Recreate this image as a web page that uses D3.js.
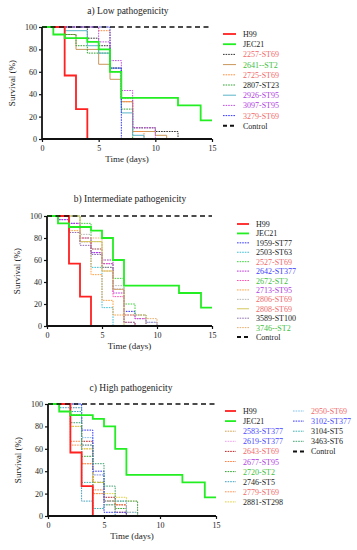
<!DOCTYPE html>
<html>
<head>
  <meta charset="utf-8">
  <script src="https://d3js.org/d3.v7.min.js"></script>
  <style>
    body { margin: 0; background: #fff; }
    svg text { font-family: 'Liberation Serif', 'DejaVu Serif', serif; }
  </style>
</head>
<body>
<script>
// ---- data: survival (%) steps, t = day of the step, s = survival from that day on
const xTicks = [0, 5, 10, 15];
const yTicks = [0, 20, 40, 60, 80, 100];
const controlLine = [[0, 100], [15, 100]];

const h99 = { name: "H99", t: [0, 2, 3, 4], s: [100, 56.7, 26.7, 0] };
const jec21 = { name: "JEC21", t: [0, 1, 2, 4, 5, 6, 7, 12, 14, 15], s: [100, 93.3, 90, 86.7, 80, 60, 36.7, 30, 16.7, 16.7] };

const lowSeries = [
  h99, jec21,
  { name: "2257-ST69", t: [0, 4, 5, 6, 7, 8, 10, 12], s: [100, 90, 83.3, 63.3, 36.7, 10, 6.7, 0] },
  { name: "2641--ST2", t: [0, 2, 3, 5, 6, 7, 8, 10, 11], s: [100, 93.3, 80, 66.7, 53.3, 33.3, 6.7, 3.3, 0] },
  { name: "2725-ST69", t: [0, 5, 6, 7, 8, 9], s: [100, 96.7, 63.3, 33.3, 6.7, 0] },
  { name: "2807-ST23", t: [0, 2, 3, 4, 6, 7, 8], s: [100, 93.3, 83.3, 76.7, 60, 26.7, 0] },
  { name: "2926-ST95", t: [0, 2, 4, 5, 6, 7, 8, 9], s: [100, 96.7, 83.3, 76.7, 63.3, 23.3, 3.3, 0] },
  { name: "3097-ST95", t: [0, 5, 6, 7, 8, 10], s: [100, 86.7, 70, 43.3, 10, 0] },
  { name: "3279-ST69", t: [0, 6, 7], s: [100, 63.3, 0] }
];
const lowColors = ["#ff2020", "#22ee22", "#333333", "#c8965a", "#ff8a3a", "#30a030", "#5ab4c8", "#c050e0", "#3535ff"];
const lowDash = [0, 0, 1, 0, 1, 1, 0, 1, 1];
const lowText = ["#222", "#222", "#f06a6a", "#40c040", "#f06a6a", "#222", "#b040e0", "#b040e0", "#f06a6a"];

const midSeries = [
  h99, jec21,
  { name: "1959-ST77", t: [0, 1, 2, 3, 4, 5, 6, 7, 8, 9, 10], s: [100, 96.7, 93.3, 80, 66.7, 56.7, 33.3, 13.3, 6.7, 3.3, 0] },
  { name: "2503-ST63", t: [0, 2, 3, 4, 5, 6], s: [100, 90, 76.7, 53.3, 16.7, 0] },
  { name: "2527-ST69", t: [0, 3, 4, 5, 6, 7, 8, 9], s: [100, 93.3, 70, 53.3, 43.3, 20, 10, 0] },
  { name: "2642-ST377", t: [0, 1, 2, 3, 4, 5, 6, 7, 8], s: [100, 96.7, 93.3, 76.7, 66.7, 60, 30, 3.3, 0] },
  { name: "2672-ST2", t: [0, 2, 3, 4, 5, 6, 7, 8, 9], s: [100, 90, 80, 70, 56.7, 26.7, 10, 6.7, 0] },
  { name: "2713-ST95", t: [0, 2, 3, 4, 5, 6, 7, 8], s: [100, 86.7, 76.7, 46.7, 23.3, 10, 3.3, 0] },
  { name: "2806-ST69", t: [0, 3, 4, 5, 6, 7, 9, 10], s: [100, 83.3, 76.7, 60, 36.7, 10, 3.3, 0] },
  { name: "2808-ST69", t: [0, 3, 5, 6, 7], s: [100, 76.7, 50, 33.3, 0] },
  { name: "3589-ST100", t: [0, 2, 3, 4, 5, 6, 7, 8], s: [100, 85, 73.3, 65, 53.3, 33.3, 3.3, 0] },
  { name: "3746--ST2", t: [0, 2, 3, 5, 6, 7, 9, 10], s: [100, 90, 80, 50, 33.3, 10, 6.7, 0] }
];
const midColors = ["#ff2020", "#22ee22", "#3535ff", "#40c0d8", "#40d040", "#c030e0", "#ff50b0", "#ffa040", "#b8b8b8", "#d4c860", "#9070b0", "#e8b070"];
const midDash = [0, 0, 1, 1, 1, 1, 1, 1, 1, 0, 1, 1];
const midText = ["#222", "#222", "#222", "#222", "#f06a6a", "#4040ff", "#40c040", "#b040e0", "#f06a6a", "#f06a6a", "#222", "#40c040"];

const highSeries = [
  h99, jec21,
  { name: "2583-ST377", t: [0, 2, 3, 4, 5, 6, 8], s: [100, 80, 60, 20, 10, 3.3, 0] },
  { name: "2619-ST377", t: [0, 2, 3, 4, 5, 6], s: [100, 96.7, 63.3, 36.7, 13.3, 0] },
  { name: "2643-ST69", t: [0, 2, 3, 4, 5, 6, 7], s: [100, 90, 66.7, 30, 16.7, 10, 0] },
  { name: "2677-ST95", t: [0, 2, 3, 4, 5, 6, 7], s: [100, 66.7, 46.7, 23.3, 13.3, 10, 0] },
  { name: "2720-ST2", t: [0, 2, 3, 4, 5, 6, 7], s: [100, 90, 53.3, 30, 13.3, 6.7, 0] },
  { name: "2746-ST5", t: [0, 1, 2, 3, 4], s: [100, 96.7, 93.3, 13.3, 0] },
  { name: "2779-ST69", t: [0, 2, 3, 4, 5, 6, 7], s: [100, 63.3, 46.7, 20, 13.3, 3.3, 0] },
  { name: "2881-ST298", t: [0, 2, 3, 4, 5, 6, 7, 8], s: [100, 80, 60, 30, 20, 16.7, 13.3, 0] },
  { name: "2950-ST69", t: [0, 3, 4, 5, 7, 8], s: [100, 70, 36.7, 13.3, 3.3, 0] },
  { name: "3102-ST377", t: [0, 3, 4, 5, 7], s: [100, 76.7, 40, 3.3, 0] },
  { name: "3104-ST5", t: [0, 2, 3, 4, 5, 6], s: [100, 96.7, 30, 6.7, 10, 0] },
  { name: "3463-ST6", t: [0, 2, 3, 4, 5, 6, 8], s: [100, 83.3, 63.3, 46.7, 26.7, 13.3, 0] }
];
const highColors = ["#ff2020", "#22ee22", "#d0a050", "#f0a0f0", "#c02020", "#ff8040", "#30a030", "#40a0c0", "#ff9050", "#e0d040", "#80c0f0", "#3535ff", "#40b0b0", "#40a070"];
const highDash = [0, 0, 1, 1, 1, 1, 1, 1, 1, 1, 1, 1, 1, 1];
const highText = ["#222", "#222", "#4a4aff", "#4a4aff", "#f06a6a", "#b040e0", "#40c040", "#222", "#f06a6a", "#222", "#f06a6a", "#4a4aff", "#222", "#222"];

// ---- drawing
const svg = d3.select("body").append("svg").attr("width", 357).attr("height", 550);

function panel(cfg) {
  const g = svg.append("g");
  const x = d3.scaleLinear().domain([0, 15]).range([cfg.x0, cfg.x1]);
  const y = d3.scaleLinear().domain([0, 100]).range([cfg.y0, cfg.y1]);

  g.append("text").attr("x", cfg.titleX).attr("y", cfg.titleY)
    .attr("text-anchor", "middle").attr("font-size", 9.5).attr("fill", "#222").text(cfg.title);

  const stepLine = d3.line().x(d => x(d[0])).y(d => y(d[1])).curve(d3.curveStepAfter);

  // curves (draw thin ones first, then H99/JEC21 on top)
  const order = d3.range(cfg.series.length).slice(2).concat([0, 1]);
  order.forEach(i => {
    const sr = cfg.series[i];
    const pts = sr.t.map((t, k) => [t, sr.s[k]]);
    g.append("path").attr("d", stepLine(pts))
      .attr("fill", "none")
      .attr("stroke", cfg.colors[i])
      .attr("stroke-width", i < 2 ? 1.8 : 1)
      .attr("stroke-dasharray", cfg.dash[i] ? "1.6,1" : null);
  });

  g.append("path").attr("d", stepLine(controlLine))
    .attr("fill", "none").attr("stroke", "#111").attr("stroke-width", 1.5)
    .attr("stroke-dasharray", "5,3.5");

  // axes
  const ax = g.append("g").attr("transform", `translate(0,${cfg.y0})`)
    .call(d3.axisBottom(x).tickValues(xTicks).tickSize(3).tickPadding(3));
  const ay = g.append("g").attr("transform", `translate(${cfg.x0},0)`)
    .call(d3.axisLeft(y).tickValues(yTicks).tickSize(3).tickPadding(2));
  [ax, ay].forEach(a => {
    a.select(".domain").attr("stroke", "#111").attr("stroke-width", 1.8);
    a.selectAll(".tick line").attr("stroke", "#111").attr("stroke-width", 1.2);
    a.selectAll("text").attr("font-size", 8).attr("fill", "#222")
      .style("font-family", "'Liberation Serif', serif");
  });
  ax.select(".domain").attr("d", `M${cfg.x0},0H${cfg.x1}`);
  ay.select(".domain").attr("d", `M0,${cfg.y0}V${cfg.y1}`);

  g.append("text").attr("x", (cfg.x0 + cfg.x1) / 2).attr("y", cfg.y0 + 23)
    .attr("text-anchor", "middle").attr("font-size", 9).attr("fill", "#222").text("Time (days)");
  g.append("text").attr("transform", `translate(${cfg.x0 - 27},${(cfg.y0 + cfg.y1) / 2}) rotate(-90)`)
    .attr("text-anchor", "middle").attr("font-size", 9).attr("fill", "#222").text("Survival (%)");

  // legend
  const names = cfg.series.map(d => d.name).concat(["Control"]);
  names.forEach((nm, i) => {
    const col = Math.floor(i / cfg.perCol);
    const row = i % cfg.perCol;
    const lx = cfg.legX + col * cfg.colW;
    const ly = cfg.legY + row * cfg.legDy;
    const isCtrl = nm === "Control";
    g.append("line").attr("x1", lx).attr("x2", lx + cfg.lineW)
      .attr("y1", ly).attr("y2", ly)
      .attr("stroke", isCtrl ? "#111" : cfg.colors[i])
      .attr("stroke-width", isCtrl ? 2 : (i < 2 ? 1.8 : 1))
      .attr("stroke-dasharray", isCtrl ? "4,3" : (cfg.dash[i] ? "1.6,1" : null));
    g.append("text").attr("x", lx + cfg.lineW + 7).attr("y", ly + 3)
      .attr("font-size", 8).attr("fill", isCtrl ? "#222" : cfg.text[i]).text(nm);
  });
}

panel({
  title: "a) Low pathogenicity", titleX: 128, titleY: 14,
  x0: 42, x1: 212, y0: 139, y1: 27,
  series: lowSeries, colors: lowColors, dash: lowDash, text: lowText,
  legX: 223, legY: 34, legDy: 10.2, perCol: 20, colW: 0, lineW: 13
});

panel({
  title: "b) Intermediate pathogenicity", titleX: 130, titleY: 202,
  x0: 47, x1: 212, y0: 326, y1: 216,
  series: midSeries, colors: midColors, dash: midDash, text: midText,
  legX: 237, legY: 224, legDy: 9.42, perCol: 20, colW: 0, lineW: 12
});

panel({
  title: "c) High pathogenicity", titleX: 131, titleY: 391,
  x0: 48, x1: 216, y0: 516, y1: 404,
  series: highSeries, colors: highColors, dash: highDash, text: highText,
  legX: 225, legY: 411, legDy: 10.1, perCol: 10, colW: 68, lineW: 11
});
</script>
</body>
</html>
